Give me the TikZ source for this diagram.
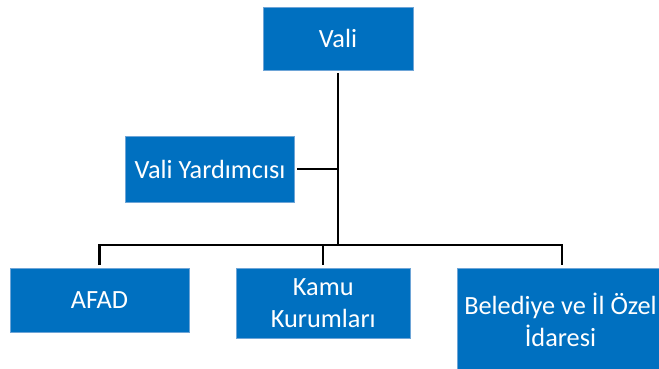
\documentclass[tikz,border=0pt]{standalone}
\usepackage{fontspec}
\setmainfont{Carlito}
\definecolor{boxblue}{RGB}{0,112,192}
\definecolor{boxedge}{RGB}{110,165,215}
\begin{document}
\begin{tikzpicture}[x=1pt,y=-1pt,
  orgbox/.style={fill=boxblue,draw=boxedge,line width=0.6pt,text=white,align=center,
    inner sep=0pt,font=\fontsize{26.3}{31.5}\selectfont},
  conn/.style={line width=2.2pt,black,line join=miter}]
\useasboundingbox (0,0) rectangle (659,369);
\clip (0,0) rectangle (659,369);
\node[orgbox,minimum width=150pt,minimum height=63pt] (vali) at (338,38.5) {Vali};
\node[orgbox,minimum width=169pt,minimum height=66pt] (yard) at (210,169) {Vali Yardımcısı};
\node[orgbox,minimum width=179pt,minimum height=64pt] (afad) at (99.5,300.5) {AFAD};
\node[orgbox,minimum width=173.5pt,minimum height=70pt] (kamu) at (323.3,303.3) {Kamu\\Kurumları};
\node[orgbox,minimum width=210pt,minimum height=104pt] (bel) at (562,320) {};
\node[text=white,align=center,inner sep=0pt,font=\fontsize{26.3}{31.5}\selectfont] (beltext) at (560.5,320) {Belediye ve İl Özel\\İdaresi};
\coordinate (j) at (338,245);
\draw[conn,shorten <=2.5pt] (vali.south) -- (j);
\draw[conn,shorten <=2.5pt] (yard.east) -- (yard.east -| vali.south);
\draw[conn] ([yshift=3pt]afad.north) -- (afad.north |- j) -- (bel.north |- j) -- ([yshift=3pt]bel.north);
\draw[conn] (kamu.north |- j) -- ([yshift=3pt]kamu.north);
\end{tikzpicture}
\end{document}
